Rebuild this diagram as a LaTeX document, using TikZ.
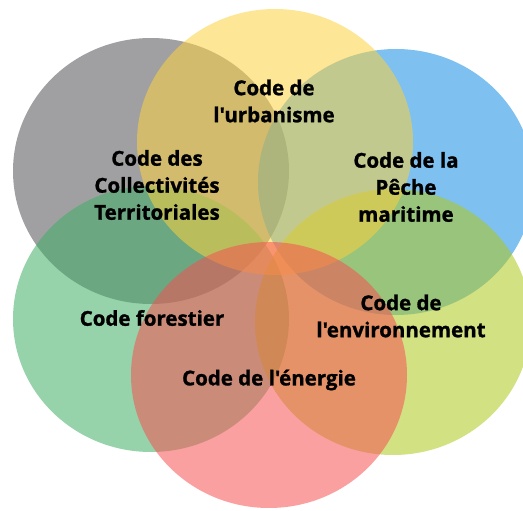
\documentclass[tikz,border=0pt]{standalone}
\usepackage{fontspec}
\newfontfamily\codefont{Open Sans}[BoldFeatures={FakeBold=1.2}]
\definecolor{cgray}{RGB}{82,82,86}
\definecolor{cyellow}{RGB}{251,209,64}
\definecolor{cblue}{RGB}{20,140,228}
\definecolor{cyg}{RGB}{173,200,28}
\definecolor{cgreen}{RGB}{64,173,100}
\definecolor{cred}{RGB}{246,82,82}

\begin{document}
\begin{tikzpicture}[
  x=1pt, y=-1pt,
  disc/.style={fill opacity=0.55, draw=none},
  codetext/.style={font=\codefont\bfseries\fontsize{20.5}{27}\selectfont, align=center, text=black, inner sep=0pt}
]
\useasboundingbox (0,0) rectangle (523,511);

% les six cercles, du dessous vers le dessus
\fill[disc, cgray] (151,171) ellipse [x radius=138, y radius=133];
\fill[disc, cblue] (396,182) ellipse [x radius=138, y radius=133];
\fill[disc, cgreen] (151,319) ellipse [x radius=138, y radius=133];
\fill[disc, cyg] (393,322) ellipse [x radius=138, y radius=133];
\fill[disc, cyellow] (275,142) ellipse [x radius=138, y radius=133];
\fill[disc, cred] (269,375) ellipse [x radius=138, y radius=133];

\node[codetext] (urbanisme) at (274,101) {Code de\\l'urbanisme};
\node[codetext] (collectivites) at (157,185) {Code des\\Collectivités\\Territoriales};
\node[codetext] (peche) at (406,187) {Code de la\\Pêche\\maritime};
\node[codetext] (forestier) at (152,318) {Code forestier};
\node[codetext] (environnement) at (401,316) {Code de\\l'environnement};
\node[codetext] (energie) at (269,380) {Code de l'énergie};
\end{tikzpicture}
\end{document}
